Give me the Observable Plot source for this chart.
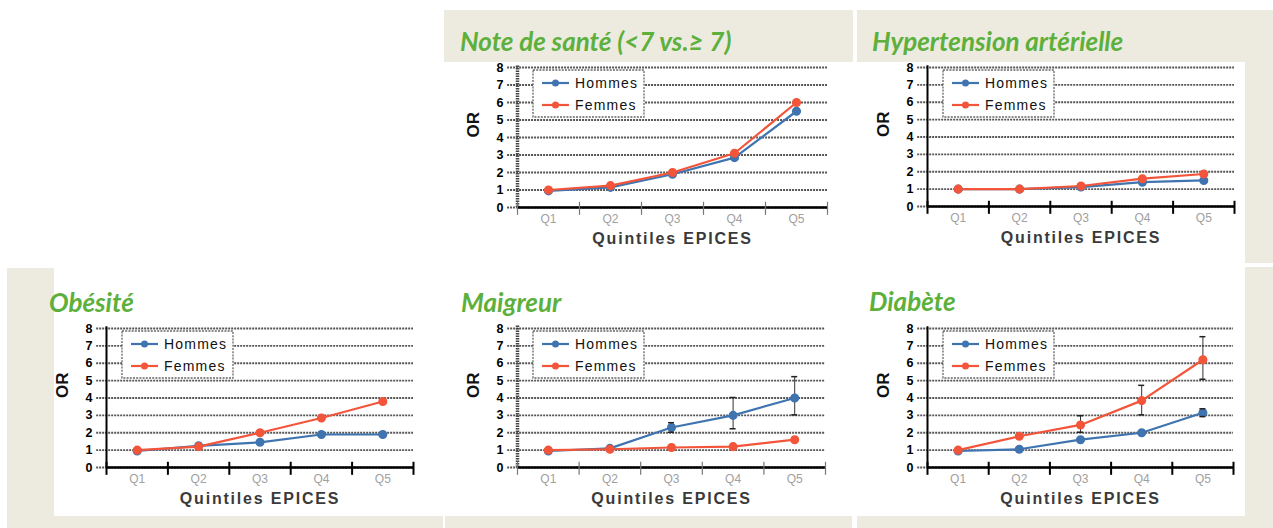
<!DOCTYPE html>
<html>
<head>
<meta charset="utf-8">
<script src="https://cdn.jsdelivr.net/npm/d3@7"></script>
<script src="https://cdn.jsdelivr.net/npm/@observablehq/plot@0.6"></script>
<style>
  html, body { margin: 0; padding: 0; background: #fff; }
  #page { position: relative; width: 1273px; height: 528px; overflow: hidden; background: #fff; }
  .beige { position: absolute; background: #edeae0; z-index: 2; }
  .panel { position: absolute; z-index: 1; }
  .title { position: absolute; z-index: 3; font-family: Lato, "Open Sans", sans-serif; font-weight: bold; font-style: italic; font-size: 26px; color: #5cb03b; white-space: nowrap; line-height: 1; }
</style>
</head>
<body>
<div id="page"></div>
<script>
// ---- data ----
const quintiles = ["Q1", "Q2", "Q3", "Q4", "Q5"];
const yTicks = [0, 1, 2, 3, 4, 5, 6, 7, 8];
const seriesNames = ["Hommes", "Femmes"];
const titles = ["Note de santé (<7 vs.≥ 7)", "Hypertension artérielle", "Obésité", "Maigreur", "Diabète"];
const xLabel = "Quintiles EPICES";
const yLabel = "OR";

const noteHommes = [0.95, 1.15, 1.9, 2.85, 5.5];
const noteFemmes = [1.0, 1.25, 2.0, 3.1, 6.0];
const htaHommes = [1.0, 1.0, 1.12, 1.4, 1.5];
const htaFemmes = [1.0, 1.0, 1.18, 1.6, 1.87];
const obeHommes = [0.95, 1.25, 1.45, 1.9, 1.9];
const obeFemmes = [1.0, 1.2, 2.0, 2.85, 3.8];
const maiHommes = [0.95, 1.1, 2.3, 3.0, 4.0];
const maiHommesLow = [null, null, 2.0, 2.2, 3.0];
const maiHommesHigh = [null, null, 2.55, 4.0, 5.2];
const maiFemmes = [1.0, 1.05, 1.15, 1.2, 1.6];
const diaHommes = [0.95, 1.05, 1.6, 2.0, 3.15];
const diaHommesLow = [null, null, null, null, 2.9];
const diaHommesHigh = [null, null, null, null, 3.35];
const diaFemmes = [1.0, 1.8, 2.45, 3.85, 6.2];
const diaFemmesLow = [null, null, 2.0, 3.0, 5.05];
const diaFemmesHigh = [null, null, 2.95, 4.7, 7.5];

const colors = {Hommes: "#3f74b0", Femmes: "#f2553a"};

// ---- layout ----
const page = document.getElementById("page");
const beigeRects = [
  [444, 10, 409, 52], [857, 10, 416, 52], [1245, 62, 28, 201],
  [1245, 267, 28, 261], [7, 268, 47, 249], [7, 516, 436, 12],
  [445, 516, 407, 12], [857, 516, 416, 12]
];
beigeRects.forEach(([x, y, w, h]) => {
  const d = document.createElement("div");
  d.className = "beige";
  Object.assign(d.style, {left: x + "px", top: y + "px", width: w + "px", height: h + "px"});
  page.appendChild(d);
});

const panels = [
  {title: titles[0], tx: 460, ty: 28, axis: 517, right: 827, y8: 67, y0: 207, h: noteHommes, f: noteFemmes, dottedAxis: true},
  {title: titles[1], tx: 872, ty: 28, axis: 927, right: 1234, y8: 67, y0: 206, h: htaHommes, f: htaFemmes},
  {title: titles[2], tx: 49, ty: 289, axis: 106, right: 413, y8: 328, y0: 467, h: obeHommes, f: obeFemmes},
  {title: titles[3], tx: 461, ty: 289, axis: 517, right: 825, y8: 328, y0: 467, h: maiHommes, f: maiFemmes, hLo: maiHommesLow, hHi: maiHommesHigh, dottedAxis: true},
  {title: titles[4], tx: 869, ty: 288, axis: 927, right: 1233, y8: 328, y0: 467, h: diaHommes, f: diaFemmes, hLo: diaHommesLow, hHi: diaHommesHigh, fLo: diaFemmesLow, fHi: diaFemmesHigh}
];

const ML = 80, MR = 25, MT = 10, MB = 50;
const font = "'Liberation Sans', Arial, sans-serif";

panels.forEach(p => {
  const rows = [];
  quintiles.forEach((q, i) => {
    rows.push({s: "Hommes", i: i + 1, v: p.h[i], lo: p.hLo ? p.hLo[i] : null, hi: p.hHi ? p.hHi[i] : null});
    rows.push({s: "Femmes", i: i + 1, v: p.f[i], lo: p.fLo ? p.fLo[i] : null, hi: p.fHi ? p.fHi[i] : null});
  });
  const errRows = rows.filter(d => d.lo != null);
  const bounds = quintiles.map((q, i) => i + 0.5).concat([quintiles.length + 0.5]);
  const centers = quintiles.map((q, i) => i + 1);
  const width = (p.right - p.axis) + ML + MR;
  const height = (p.y0 - p.y8) + MT + MB;

  const svg = Plot.plot({
    width, height,
    marginLeft: ML, marginRight: MR, marginTop: MT, marginBottom: MB,
    style: {fontFamily: font, background: "transparent", overflow: "visible"},
    x: {type: "linear", domain: [0.5, quintiles.length + 0.5], axis: null},
    y: {type: "linear", domain: [0, 8], axis: null},
    marks: [
      Plot.ruleY(yTicks, {x1: 0.34, x2: quintiles.length + 0.5, stroke: "#555", strokeWidth: 1.8, strokeDasharray: "2,1"}),
      p.dottedAxis
        ? Plot.ruleX([0.5], {y1: 0, y2: 8.15, stroke: "#444", strokeWidth: 3.5, strokeDasharray: "1.5,1"})
        : Plot.ruleX([0.5], {y1: 0, y2: 8.1, stroke: "#000", strokeWidth: 2}),
      Plot.ruleY([0], {x1: 0.5, x2: quintiles.length + 0.5, stroke: "#000", strokeWidth: 2.5}),
      Plot.ruleX(bounds, {y1: -0.45, y2: 0.3, stroke: p.dottedAxis ? "#777" : "#000", strokeWidth: p.dottedAxis ? 1.2 : 2}),
      Plot.axisX(centers, {tickSize: 0, tickPadding: 7, tickFormat: d => quintiles[d - 1], fill: "#a0a0a0", fontSize: 12, label: null}),
      Plot.axisY(yTicks, {tickSize: 0, tickPadding: 14, fill: "#000", fontSize: 12.5, fontWeight: "bold", label: null}),
      Plot.text([yLabel], {frameAnchor: "left", dx: -44, rotate: -90, fontSize: 17, fontWeight: "bold", fill: "#111"}),
      Plot.text([xLabel], {frameAnchor: "bottom", dy: 36, fontSize: 16, fontWeight: "bold", fill: "#3a3a3a"}),
      Plot.ruleX(errRows, {x: "i", y1: "lo", y2: "hi", stroke: "#333", strokeWidth: 1}),
      Plot.line(rows, {x: "i", y: "v", z: "s", stroke: d => colors[d.s], strokeWidth: 2.2}),
      Plot.dot(rows, {x: "i", y: "v", r: 3.8, fill: d => colors[d.s], stroke: d => colors[d.s]})
    ]
  });
  d3.select(svg).selectAll("text").filter(function() { return this.textContent === xLabel; })
    .attr("letter-spacing", "1.8px");
  // error-bar caps
  const sx = svg.scale("x"), sy = svg.scale("y");
  const g0 = d3.select(svg).append("g");
  errRows.forEach(d => {
    [d.lo, d.hi].forEach(v => {
      g0.append("line").attr("x1", sx.apply(d.i) - 3).attr("x2", sx.apply(d.i) + 3)
        .attr("y1", sy.apply(v)).attr("y2", sy.apply(v)).attr("stroke", "#222").attr("stroke-width", 1.5);
    });
  });
  // legend box
  const g = d3.select(svg).append("g").attr("transform", `translate(${ML + 16},${MT + 3})`);
  g.append("rect").attr("x", 0).attr("y", 0).attr("width", 111).attr("height", 47)
    .attr("fill", "#fff").attr("stroke", "#666").attr("stroke-width", 1.3).attr("stroke-dasharray", "2,1.2");
  seriesNames.forEach((s, k) => {
    const yy = 13 + k * 22;
    g.append("line").attr("x1", 9).attr("x2", 36).attr("y1", yy).attr("y2", yy).attr("stroke", colors[s]).attr("stroke-width", 2.2);
    g.append("circle").attr("cx", 22.5).attr("cy", yy).attr("r", 3.5).attr("fill", colors[s]);
    g.append("text").attr("x", 42).attr("y", yy).attr("dy", "0.36em").attr("font-size", 14)
      .attr("letter-spacing", "1.2px").attr("text-anchor", "start").attr("fill", "#111").attr("font-family", font).text(s);
  });

  const wrap = document.createElement("div");
  wrap.className = "panel";
  Object.assign(wrap.style, {left: (p.axis - ML) + "px", top: (p.y8 - MT) + "px"});
  wrap.appendChild(svg);
  page.appendChild(wrap);

  const t = document.createElement("div");
  t.className = "title";
  t.textContent = p.title;
  Object.assign(t.style, {left: p.tx + "px", top: p.ty + "px"});
  page.appendChild(t);
});
</script>
</body>
</html>
